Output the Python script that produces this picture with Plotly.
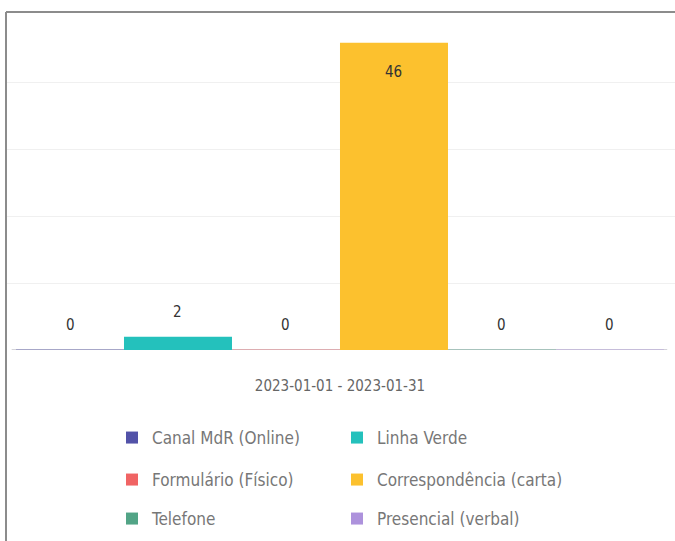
import plotly.graph_objects as go

period = "2023-01-01 - 2023-01-31"
series_names = ["Canal MdR (Online)", "Linha Verde", "Formulário (Físico)",
                "Correspondência (carta)", "Telefone", "Presencial (verbal)"]
series_values = [0, 2, 0, 46, 0, 0]
series_colors = ["#5252a8", "#24c1bc", "#f06464", "#fcc12e", "#52a486", "#ad92dc"]
legend_rows = ["legend", "legend", "legend2", "legend2", "legend3", "legend3"]

FONT = "DejaVu Sans Condensed, Roboto, sans-serif"

fig = go.Figure()
n = len(series_names)
vmax = max(series_values)
annotations = []
for i, (name, v, c, lg) in enumerate(zip(series_names, series_values, series_colors, legend_rows)):
    fig.add_trace(go.Bar(
        x=[i], y=[v], width=1, name=name, legend=lg,
        marker=dict(color=c, line=dict(width=0)),
        hoverinfo="name+y",
    ))
    # thin coloured baseline segment for each series
    fig.add_trace(go.Scatter(
        x=[i - 0.5, i + 0.5], y=[0, 0], mode="lines",
        line=dict(color=c, width=1.5), opacity=0.45,
        showlegend=False, hoverinfo="skip",
    ))
    inside = v >= 0.2 * vmax
    annotations.append(dict(
        x=i, y=v, xref="x", yref="y", text=str(v), showarrow=False,
        yshift=-29 if inside else 25,
        font=dict(family=FONT, size=15, color="#333333"),
    ))

fig.update_layout(
    width=675, height=541,
    margin=dict(l=7, r=0, t=16, b=191),
    paper_bgcolor="white", plot_bgcolor="white",
    barmode="overlay",
    font=dict(family=FONT, size=15, color="#777777"),
    xaxis=dict(
        range=[-0.5833, 5.602],
        tickvals=[(n - 1) / 2], ticktext=[period],
        showgrid=False, zeroline=False, showline=False, mirror=False,
        ticks="outside", ticklen=22, tickcolor="rgba(0,0,0,0)",
        tickfont=dict(family=FONT, size=15, color="#666666"),
        fixedrange=True,
    ),
    yaxis=dict(
        range=[0, 50], dtick=10, showticklabels=False,
        showgrid=True, gridcolor="#f0f0f0", gridwidth=1,
        zeroline=False, showline=False, mirror=False, fixedrange=True,
    ),
    annotations=annotations,
    shapes=[
        dict(type="line", xref="x", yref="y", x0=-0.54, x1=5.53, y0=0, y1=0,
             line=dict(color="#c6c6cc", width=1.5), layer="below"),
        dict(type="line", xref="paper", yref="paper", x0=-0.0015, x1=1.0,
             y0=1.012, y1=1.012, line=dict(color="#8c8c8c", width=2)),
        dict(type="line", xref="paper", yref="paper", x0=-0.0015, x1=-0.0015,
             y0=1.012, y1=-0.7, line=dict(color="#8c8c8c", width=2)),
    ],
)

legend_common = dict(
    orientation="h", xref="container", yref="container",
    xanchor="left", yanchor="middle",
    entrywidth=180, bgcolor="rgba(0,0,0,0)",
    font=dict(family=FONT, size=17, color="#777777"),
    itemclick=False, itemdoubleclick=False,
)
row_y = [438, 480, 519]
fig.update_layout(
    legend=dict(legend_common, x=112 / 675, y=1 - row_y[0] / 541),
    legend2=dict(legend_common, x=112 / 675, y=1 - row_y[1] / 541),
    legend3=dict(legend_common, x=112 / 675, y=1 - row_y[2] / 541),
)

fig.write_html(
    "out.html",
    config={"displayModeBar": False},
    post_script="document.body.style.margin='0';document.body.style.overflow='hidden';",
)
